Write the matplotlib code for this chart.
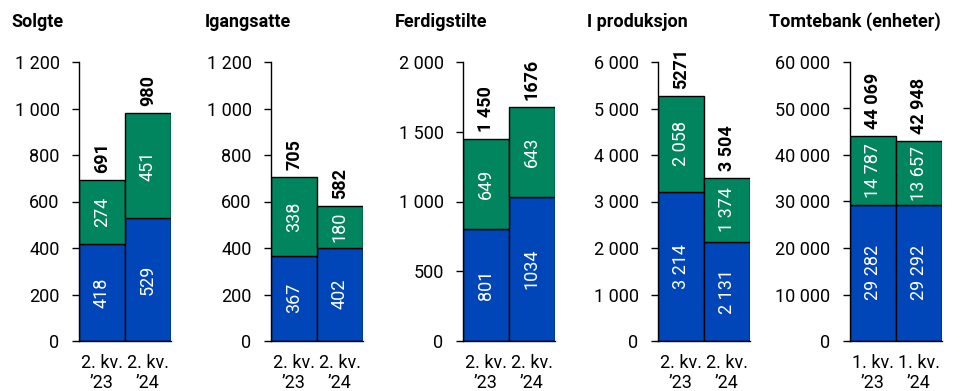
import matplotlib.pyplot as plt

plt.rcParams['font.family'] = ['Roboto', 'DejaVu Sans']

# data
titles = ['Solgte', 'Igangsatte', 'Ferdigstilte', 'I produksjon', 'Tomtebank (enheter)']
quarters = [['2. kv.\n\u201923', '2. kv.\n\u201924']] * 4 + [['1. kv.\n\u201923', '1. kv.\n\u201924']]

solgte_blue = [418, 529]
solgte_green = [274, 451]
igang_blue = [367, 402]
igang_green = [338, 180]
ferdig_blue = [801, 1034]
ferdig_green = [649, 643]
prod_blue = [3214, 2131]
prod_green = [2058, 1374]
tomt_blue = [29282, 29292]
tomt_green = [14787, 13657]

blue_vals = [solgte_blue, igang_blue, ferdig_blue, prod_blue, tomt_blue]
green_vals = [solgte_green, igang_green, ferdig_green, prod_green, tomt_green]

totals = [[691, 980], [705, 582], [1450, 1676], [5271, 3504], [44069, 42948]]
total_labels = [['691', '980'], ['705', '582'], ['1 450', '1676'], ['5271', '3 504'], ['44 069', '42 948']]
blue_labels = [['418', '529'], ['367', '402'], ['801', '1034'], ['3 214', '2 131'], ['29 282', '29 292']]
green_labels = [['274', '451'], ['338', '180'], ['649', '643'], ['2 058', '1 374'], ['14 787', '13 657']]

yticks = [[0, 200, 400, 600, 800, 1000, 1200],
          [0, 200, 400, 600, 800, 1000, 1200],
          [0, 500, 1000, 1500, 2000],
          [0, 1000, 2000, 3000, 4000, 5000, 6000],
          [0, 10000, 20000, 30000, 40000, 50000, 60000]]

BLUE = '#0046B9'
GREEN = '#00855E'

W, H = 964, 391
fig = plt.figure(figsize=(W / 100, H / 100), dpi=100)

spine_x = [79, 271, 463, 658, 850]
title_x = [11, 205, 395, 587, 769]

for i in range(5):
    ax = fig.add_axes([spine_x[i] / W, (H - 341) / H, 92 / W, (341 - 62) / H])
    x = [0, 1]
    ax.bar(x, blue_vals[i], width=1, color=BLUE, edgecolor='black', linewidth=1)
    ax.bar(x, green_vals[i], width=1, bottom=blue_vals[i], color=GREEN,
           edgecolor='black', linewidth=1)
    for j in range(2):
        b = blue_vals[i][j]
        g = green_vals[i][j]
        ax.text(j, b / 2, blue_labels[i][j], rotation=90, color='white',
                ha='center', va='center', fontsize=13)
        ax.text(j, b + g / 2, green_labels[i][j], rotation=90, color='white',
                ha='center', va='center', fontsize=13)
        ax.annotate(total_labels[i][j], (j, totals[i][j]), xytext=(0, 5),
                    textcoords='offset points', rotation=90, ha='center',
                    va='bottom', fontsize=13, fontweight='bold')
    ax.set_xlim(-0.5, 1.5)
    ax.set_ylim(0, yticks[i][-1])
    ax.set_yticks(yticks[i])
    ax.set_yticklabels(['{:,}'.format(v).replace(',', ' ') for v in yticks[i]])
    ax.set_xticks(x)
    ax.set_xticklabels(quarters[i], linespacing=1.2)
    ax.tick_params(axis='y', length=5, width=1, pad=9, labelsize=13)
    ax.tick_params(axis='x', length=0, pad=9, labelsize=13)
    for s in ['top', 'right']:
        ax.spines[s].set_visible(False)
    ax.spines['left'].set_linewidth(1)
    ax.spines['bottom'].set_linewidth(1)
    ax.set_facecolor('none')
    fig.text(title_x[i] / W, 1 - 22 / H, titles[i], fontsize=13,
             fontweight='bold', ha='left', va='center')

fig.savefig('out.png', dpi=100)
